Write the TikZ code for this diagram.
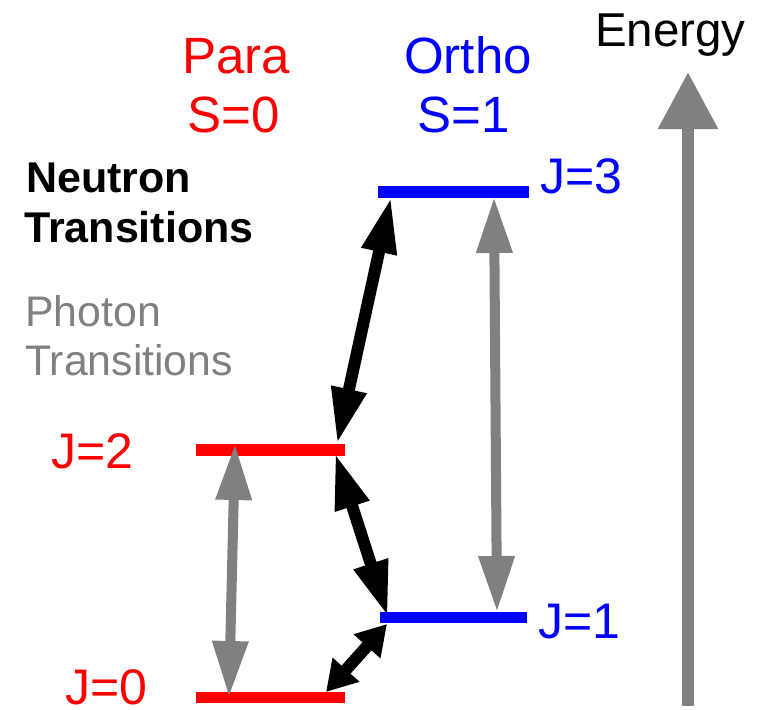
\documentclass[tikz,border=0pt]{standalone}
\usepackage{fontspec}
\setmainfont{Liberation Sans}
\usetikzlibrary{arrows.meta}
\definecolor{para}{RGB}{255,0,0}
\definecolor{ortho}{RGB}{0,0,255}
\definecolor{phot}{RGB}{128,128,128}
\tikzset{
  level/.style={line width=11.5pt},
  txt/.style={inner sep=0pt},
  jfont/.style={font=\fontsize{50}{50}\selectfont},
  phottr/.style={phot, line width=10pt, {Triangle[length=56pt,width=34pt]}-{Triangle[length=56pt,width=34pt]}},
  neutr/.style={black, line width=12pt, {Triangle[length=56pt,width=33pt]}-{Triangle[length=56pt,width=33pt]}},
  neutrs/.style={black, line width=12pt, {Triangle[length=30pt,width=34pt]}-{Triangle[length=30pt,width=34pt]}},
  energyarr/.style={phot, line width=12pt, -{Triangle[length=57pt,width=57pt]}}
}
\begin{document}
\begin{tikzpicture}[x=1pt,y=-1pt]
\useasboundingbox (0,0) rectangle (762,709);
% levels
\coordinate (j0L) at (196,697.5); \coordinate (j0R) at (345,697.5);
\coordinate (j2L) at (196,450); \coordinate (j2R) at (345,450);
\coordinate (j1L) at (380,617.5); \coordinate (j1R) at (527,617.5);
\coordinate (j3L) at (378,192); \coordinate (j3R) at (529,192);
\draw[level,para] (j0L) -- (j0R);
\draw[level,para] (j2L) -- (j2R);
\draw[level,ortho] (j1L) -- (j1R);
\draw[level,ortho] (j3L) -- (j3R);
% arrow end points
\coordinate (pgTop) at (235,444); \coordinate (pgBot) at (229,697);
\coordinate (ogTop) at (494,197); \coordinate (ogBot) at (497,612);
\coordinate (aTop) at (391,197); \coordinate (aBot) at (337,444);
\coordinate (bTop) at (335,453); \coordinate (bBot) at (388,617);
\coordinate (cBot) at (326,692); \coordinate (cTop) at (387,624);
\coordinate (eBot) at (688,706); \coordinate (eTop) at (688,72);
% photon transitions
\draw[phottr] (pgTop) -- (pgBot);
\draw[phottr] (ogTop) -- (ogBot);
% neutron transitions
\draw[neutr] (aTop) -- (aBot);
\draw[neutr] (bTop) -- (bBot);
\draw[neutrs] (cBot) -- (cTop);
% energy
\draw[energyarr] (eBot) -- (eTop);
% texts
\node[txt,para,anchor=base,font=\fontsize{51}{51}\selectfont] (paraT) at (236,73) {Para};
\node[txt,para,anchor=base,font=\fontsize{51}{51}\selectfont] (s0T) at (234,132) {S=0};
\node[txt,ortho,anchor=base,font=\fontsize{51}{51}\selectfont] (orthoT) at (468,73) {Ortho};
\node[txt,ortho,anchor=base,font=\fontsize{51}{51}\selectfont] (s1T) at (464,132) {S=1};
\node[txt,anchor=base west,font=\fontsize{47.5}{47.5}\selectfont] (energyT) at (595,47) {Energy};
\node[txt,anchor=base west,font=\fontsize{43}{43}\selectfont\bfseries] (neutT1) at (26,192) {Neutron};
\node[txt,anchor=base west,font=\fontsize{43}{43}\selectfont\bfseries] (neutT2) at (24,242) {Transitions};
\node[txt,phot,anchor=base west,font=\fontsize{42.8}{42.8}\selectfont] (photT1) at (25,326) {Photon};
\node[txt,phot,anchor=base west,font=\fontsize{42.8}{42.8}\selectfont] (photT2) at (25,375) {Transitions};
\node[txt,para,anchor=base west,jfont] (j2T) at (51,468) {J=2};
\node[txt,para,anchor=base west,jfont,text depth=0pt] (j0T) at (65,704) {J=0};
\node[txt,ortho,anchor=base west,jfont] (j1T) at (538,638) {J=1};
\node[txt,ortho,anchor=base west,jfont] (j3T) at (540,193) {J=3};
\end{tikzpicture}
\end{document}
